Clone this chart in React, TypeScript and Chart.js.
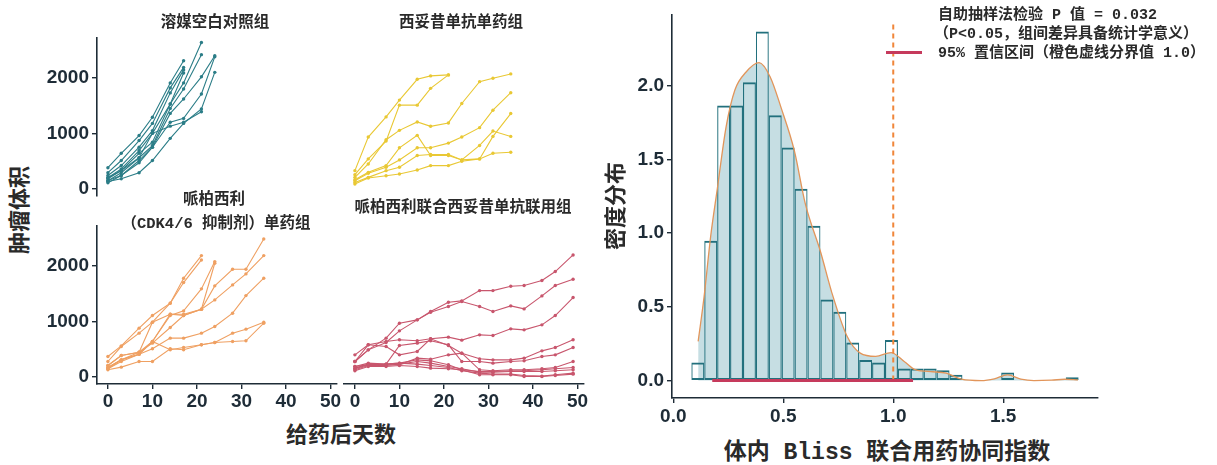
import React, { useEffect, useRef } from "react";
import { Chart, registerables } from "chart.js";

Chart.register(...registerables);

// ---------------- data ----------------
const DAYS = [0, 3, 7, 10, 14, 17, 21, 24, 28, 31, 35, 38, 42, 45, 49];
const DAY_TICKS = [0, 10, 20, 30, 40, 50];
const VOLUME_TICKS = [0, 1000, 2000];

const vehicleSeries = [
  [380, 640, 960, 1290, 1910, 2310],
  [290, 510, 870, 1180, 1820, 2190],
  [240, 420, 750, 1050, 1730, 2145],
  [200, 360, 690, 1000, 1530, 2090],
  [180, 330, 640, 840, 1530, 1910, 2640],
  [145, 290, 560, 780, 1450, 1800, 2420],
  [110, 240, 510, 750, 1360, 1620, 2020, 2400],
  [150, 240, 470, 750, 1200, 1270, 1710, 2380],
  [130, 180, 290, 510, 910, 1180, 1440, 2100],
  [200, 330, 560, 1000, 1130, 1200, 1390],
];

const cetuximabSeries = [
  [327, 933, 1297, 1600, 1975, 2036, 2054],
  [255, 539, 860, 1509, 1509, 1812, 2054],
  [206, 448, 885, 1054, 1206, 1127, 1188, 1539, 1933, 1994, 2072],
  [164, 297, 418, 739, 964, 600, 600, 521, 539, 945, 1357],
  [145, 279, 388, 521, 739, 739, 824, 933, 1103, 1418, 1733],
  [115, 206, 327, 388, 600, 618, 618, 521, 782, 1042, 945],
  [85, 194, 236, 267, 339, 418, 418, 497, 539, 642, 660],
];

const palbociclibSeries = [
  [366, 558, 877, 1105, 1327, 1778, 2186],
  [276, 546, 787, 985, 1329, 1700, 2108],
  [204, 384, 444, 985, 1129, 1129, 1219, 2048],
  [168, 306, 408, 637, 1105, 1189, 1586, 2078],
  [168, 306, 444, 637, 1129, 1105, 1219, 1640, 1940, 1940, 2486],
  [204, 384, 444, 607, 889, 1105, 1219, 1387, 1658, 1856, 2186],
  [144, 306, 408, 505, 697, 697, 787, 907, 1147, 1465, 1778],
  [144, 276, 408, 637, 487, 529, 577, 619, 637, 649, 967],
  [126, 174, 276, 276, 505, 487, 577, 619, 787, 859, 985],
];

const comboSeries = [
  [276, 486, 697, 967, 1027, 1178, 1345, 1369, 1555, 1555, 1634, 1646, 1736, 1898, 2198],
  [276, 486, 619, 829, 1027, 1165, 1267, 1357, 1267, 1177, 1279, 1225, 1459, 1646, 1760],
  [396, 577, 637, 667, 649, 685, 715, 661, 757, 745, 865, 847, 937, 1105, 1429],
  [276, 577, 547, 396, 456, 685, 565, 426, 324, 306, 306, 336, 468, 529, 667],
  [186, 246, 228, 565, 607, 649, 577, 276, 276, 246, 276, 288, 366, 396, 529],
  [156, 228, 216, 216, 336, 318, 396, 426, 126, 108, 126, 126, 144, 168, 276],
  [144, 216, 228, 246, 306, 288, 216, 126, 96, 96, 108, 108, 126, 144, 168],
  [126, 204, 204, 228, 276, 246, 186, 144, 84, 84, 96, 96, 96, 108, 126],
  [186, 216, 228, 246, 228, 204, 168, 108, 66, 48, 48, 24, 12, 36, 66],
  [108, 186, 186, 204, 186, 156, 144, 126, 36, 36, 36, 6, 6, 24, 48],
];

// histogram of Bliss index (30 bins)
const HIST_START = 0.082;
const HIST_BIN_WIDTH = 0.0587;
const histDensity = [
  0.123, 0.948, 1.864, 1.864, 2.023, 2.366, 1.798, 1.58, 1.3, 1.05,
  0.55, 0.466, 0.259, 0.139, 0.123, 0.275, 0.082, 0.082, 0.082, 0.07,
  0.039, 0, 0, 0, 0.055, 0, 0, 0, 0, 0.023,
];
const densityX = [
  0.113, 0.14, 0.17, 0.2, 0.24, 0.28, 0.33, 0.39, 0.44, 0.49, 0.55, 0.6, 0.67,
  0.72, 0.79, 0.85, 0.92, 0.99, 1.05, 1.1, 1.18, 1.24, 1.31, 1.4, 1.46, 1.52,
  1.58, 1.64, 1.72, 1.78, 1.84,
];
const densityY = [
  0.266, 0.57, 0.98, 1.3, 1.72, 1.97, 2.09, 2.155, 2.06, 1.85, 1.56, 1.2, 0.87,
  0.6, 0.3, 0.186, 0.164, 0.19, 0.13, 0.074, 0.06, 0.05, 0.01, 0.0, 0.012,
  0.039, 0.01, 0.0, 0.003, 0.009, 0.005,
];
const CI_LOW = 0.177;
const CI_HIGH = 1.09;
const THRESHOLD = 1.0;
const THRESHOLD_TOP = 2.43;
const DENSITY_TICKS = [0, 0.5, 1, 1.5, 2];
const INDEX_TICKS = [0, 0.5, 1, 1.5];

// ---------------- style ----------------
const TEAL = "#2b7d87";
const YELLOW = "#e9c834";
const ORANGE = "#efa062";
const RED = "#c8566d";
const AXIS = "#1e2c37";
const TICK_FONT = { family: "'Liberation Sans', Arial, sans-serif", size: 19, weight: "bold" as const };
const TEXT_FONT = "'Liberation Mono', 'Noto Sans CJK SC', monospace";

const DAY_MIN = -2.45;
const DAY_MAX = 51.45;
const VOL_MIN = -130;
const VOL_MAX = 2720;

function axisCommon(showAxis: boolean) {
  return {
    display: showAxis,
    grid: { drawOnChartArea: false, drawTicks: true, tickLength: 5, color: AXIS, lineWidth: 1.4 },
    border: { display: true, color: AXIS, width: 1.6 },
    ticks: { font: TICK_FONT, color: AXIS, padding: 1, maxRotation: 0, autoSkip: false },
  };
}

function noOverhangX(s: any, h: number) {
  s.height = h;
  s.paddingLeft = 0;
  s.paddingRight = 0;
}
function noOverhangY(s: any, w: number) {
  s.width = w;
  s.paddingTop = 0;
  s.paddingBottom = 0;
}

function panelConfig(series: number[][], color: string, showX: boolean, showY: boolean, padding: any): any {
  return {
    type: "line",
    data: {
      datasets: series.map((s) => ({
        data: s.map((v, i) => ({ x: DAYS[i], y: v })),
        borderColor: color,
        backgroundColor: color,
        borderWidth: 1.1,
        pointRadius: 1.7,
        pointBorderWidth: 0,
        tension: 0,
        fill: false,
      })),
    },
    options: {
      responsive: false,
      animation: false,
      events: [],
      layout: { padding },
      plugins: { legend: { display: false }, tooltip: { enabled: false } },
      scales: {
        x: {
          type: "linear",
          min: DAY_MIN,
          max: DAY_MAX,
          ...axisCommon(showX),
          ticks: { ...axisCommon(showX).ticks, callback: (v: any) => String(v) },
          afterBuildTicks: (s: any) => {
            s.ticks = DAY_TICKS.map((v) => ({ value: v }));
          },
          afterFit: (s: any) => noOverhangX(s, showX ? 34 : 0),
        },
        y: {
          type: "linear",
          min: VOL_MIN,
          max: VOL_MAX,
          ...axisCommon(showY),
          ticks: { ...axisCommon(showY).ticks, padding: 3, callback: (v: any) => String(v) },
          afterBuildTicks: (s: any) => {
            s.ticks = VOLUME_TICKS.map((v) => ({ value: v }));
          },
          afterFit: (s: any) => noOverhangY(s, showY ? 60 : 0),
        },
      },
    },
  };
}

function histConfig(): any {
  const bins = histDensity.map((h, i) => ({
    x: HIST_START + (i + 0.5) * HIST_BIN_WIDTH,
    y: h > 0 ? h : null,
  }));
  const dens = densityX.map((x, i) => ({ x, y: densityY[i] }));
  return {
    type: "bar",
    data: {
      datasets: [
        {
          type: "line",
          data: dens,
          borderWidth: 0,
          borderColor: "rgba(0,0,0,0)",
          backgroundColor: "#c6dee3",
          fill: "origin",
          pointRadius: 0,
          cubicInterpolationMode: "monotone",
          order: 5,
        },
        {
          type: "bar",
          data: bins,
          backgroundColor: "rgba(0,0,0,0)",
          borderColor: "#22707d",
          borderWidth: { top: 2, bottom: 2, left: 1.1, right: 1.1 },
          borderSkipped: false,
          barPercentage: 1,
          categoryPercentage: 1,
          inflateAmount: 0,
          order: 4,
        },
        {
          type: "line",
          data: dens,
          borderWidth: 1.3,
          borderColor: "#e2955a",
          fill: false,
          pointRadius: 0,
          cubicInterpolationMode: "monotone",
          order: 3,
        },
        {
          type: "line",
          data: [
            { x: THRESHOLD, y: 0 },
            { x: THRESHOLD, y: THRESHOLD_TOP },
          ],
          borderWidth: 2,
          borderColor: "#f0863a",
          borderDash: [5, 4],
          pointRadius: 0,
          fill: false,
          order: 2,
        },
        {
          type: "line",
          data: [
            { x: CI_LOW, y: 0 },
            { x: CI_HIGH, y: 0 },
          ],
          borderWidth: 3,
          borderColor: "#c63a5c",
          pointRadius: 0,
          fill: false,
          order: 1,
        },
      ],
    },
    options: {
      responsive: false,
      animation: false,
      events: [],
      layout: { padding: { top: 10, right: 20, left: 0, bottom: 0 } },
      plugins: { legend: { display: false }, tooltip: { enabled: false } },
      scales: {
        x: {
          type: "linear",
          min: -0.006,
          max: 1.931,
          offset: false,
          ...axisCommon(true),
          grid: { ...axisCommon(true).grid, offset: false },
          ticks: { ...axisCommon(true).ticks, padding: 2, callback: (v: any) => Number(v).toFixed(1) },
          afterBuildTicks: (s: any) => {
            s.ticks = INDEX_TICKS.map((v) => ({ value: v }));
          },
          afterFit: (s: any) => noOverhangX(s, 40),
        },
        y: {
          type: "linear",
          min: -0.118,
          max: 2.478,
          ...axisCommon(true),
          ticks: { ...axisCommon(true).ticks, padding: 3, callback: (v: any) => Number(v).toFixed(1) },
          afterBuildTicks: (s: any) => {
            s.ticks = DENSITY_TICKS.map((v) => ({ value: v }));
          },
          afterFit: (s: any) => noOverhangY(s, 72),
        },
      },
    },
  };
}

// ---------------- components ----------------
function ChartBox(props: { left: number; top: number; width: number; height: number; make: () => any }) {
  const ref = useRef<HTMLCanvasElement>(null);
  useEffect(() => {
    const chart = new Chart(ref.current as HTMLCanvasElement, props.make());
    return () => chart.destroy();
  }, []);
  return (
    <div style={{ position: "absolute", left: props.left, top: props.top, width: props.width, height: props.height }}>
      <canvas ref={ref} width={props.width} height={props.height} style={{ width: props.width, height: props.height, display: "block" }} />
    </div>
  );
}

function Label(props: { x: number; y: number; text: string; size: number; rotate?: boolean; anchor?: "center" | "left"; color?: string }) {
  const anchor = props.anchor || "center";
  const tx = anchor === "center" ? "-50%" : "0";
  return (
    <div
      style={{
        position: "absolute",
        left: props.x,
        top: props.y,
        transform: `translate(${tx}, -50%)${props.rotate ? " rotate(-90deg)" : ""}`,
        transformOrigin: anchor === "center" ? "center" : "left center",
        whiteSpace: "pre",
        fontFamily: TEXT_FONT,
        fontWeight: 700,
        fontSize: props.size,
        lineHeight: 1,
        color: props.color || "#2a2a2a",
      }}
    >
      {props.text}
    </div>
  );
}

export default function App() {
  return (
    <div style={{ position: "absolute", left: 0, top: 0, width: 1217, height: 465, background: "#ffffff", overflow: "hidden" }}>
      <ChartBox left={37} top={30} width={312} height={174} make={() => panelConfig(vehicleSeries, TEAL, false, true, { top: 8, bottom: 8, left: 0, right: 12 })} />
      <ChartBox left={334} top={30} width={262} height={174} make={() => panelConfig(cetuximabSeries, YELLOW, false, false, { top: 8, bottom: 8, left: 10, right: 12 })} />
      <ChartBox left={37} top={218} width={312} height={200} make={() => panelConfig(palbociclibSeries, ORANGE, true, true, { top: 8, bottom: 0, left: 0, right: 12 })} />
      <ChartBox left={334} top={218} width={262} height={200} make={() => panelConfig(comboSeries, RED, true, false, { top: 8, bottom: 0, left: 10, right: 12 })} />
      <ChartBox left={600} top={5} width={518} height={433} make={histConfig} />

      <Label x={215} y={24} text="溶媒空白对照组" size={15.5} />
      <Label x={461} y={24} text="西妥昔单抗单药组" size={15.5} />
      <Label x={214} y={201} text="哌柏西利" size={15.5} />
      <Label x={216} y={225} text="（CDK4/6 抑制剂）单药组" size={15.5} />
      <Label x={463} y={209} text="哌柏西利联合西妥昔单抗联用组" size={15.5} />
      <Label x={22} y={210} text="肿瘤体积" size={22} rotate />
      <Label x={341} y={437} text="给药后天数" size={22} />
      <Label x={618} y={206} text="密度分布" size={22} rotate />
      <Label x={887} y={453} text="体内 Bliss 联合用药协同指数" size={23} />

      <Label x={938} y={15} text="自助抽样法检验 P 值 = 0.032" size={15} anchor="left" />
      <Label x={934} y={34} text="（P<0.05，组间差异具备统计学意义）" size={15} anchor="left" />
      <Label x={938} y={53} text="95% 置信区间（橙色虚线分界值 1.0）" size={15} anchor="left" />
      <div style={{ position: "absolute", left: 886, top: 51, width: 36, height: 3, background: "#c63a5c" }} />
    </div>
  );
}
